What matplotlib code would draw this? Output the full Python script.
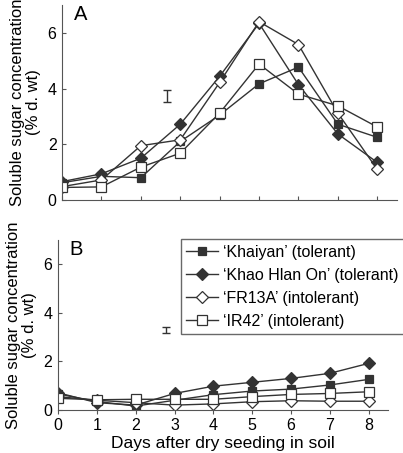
import matplotlib.pyplot as plt
import numpy as np

plt.rcParams['font.family'] = ['Liberation Sans', 'DejaVu Sans']

dias = [0, 1, 2, 3, 4, 5, 6, 7, 8]
nomes = ["\u2018Khaiyan\u2019 (tolerant)", "\u2018Khao Hlan On\u2019 (tolerant)",
         "\u2018FR13A\u2019 (intolerant)", "\u2018IR42\u2019 (intolerant)"]

# painel A
khaiyanA = [0.62, 0.85, 0.80, 2.10, 3.05, 4.17, 4.77, 2.72, 2.25]
khaoA = [0.66, 0.94, 1.50, 2.72, 4.44, 6.34, 4.14, 2.37, 1.35]
fr13aA = [0.48, 0.72, 1.95, 2.16, 4.22, 6.40, 5.58, 3.12, 1.10]
ir42A = [0.45, 0.47, 1.18, 1.68, 3.12, 4.88, 3.80, 3.38, 2.62]
# painel B
khaiyanB = [0.66, 0.35, 0.16, 0.40, 0.63, 0.78, 0.86, 1.03, 1.26]
khaoB = [0.71, 0.30, 0.20, 0.68, 0.98, 1.14, 1.30, 1.51, 1.92]
fr13aB = [0.55, 0.40, 0.30, 0.20, 0.25, 0.34, 0.38, 0.36, 0.36]
ir42B = [0.48, 0.42, 0.44, 0.44, 0.44, 0.55, 0.64, 0.68, 0.75]

# barras de erro (x, y, semi-amplitude)
erroA = (2.66, 3.72, 0.22)
erroB = (2.78, 3.30, 0.12)

cor = '#333333'
estilos = [dict(marker='s', mfc=cor, mec=cor, ms=6),
           dict(marker='D', mfc=cor, mec=cor, ms=6.5),
           dict(marker='D', mfc='white', mec=cor, ms=6.5),
           dict(marker='s', mfc='white', mec=cor, ms=6.5)]

fig = plt.figure(figsize=(4.03, 4.53), dpi=100)
axA = fig.add_axes([0.154, 0.5585, 0.831, 0.4305])
axB = fig.add_axes([0.144, 0.095, 0.819, 0.375])

def painel(ax, series, erro, letra):
    for ys, est, nome in zip(series, estilos, nomes):
        ax.plot(dias, ys, '-', color=cor, lw=1, mew=0.9, label=nome, **est)
    ax.errorbar([erro[0]], [erro[1]], yerr=[erro[2]], fmt='none', ecolor=cor,
                elinewidth=1, capsize=3, capthick=1)
    ax.set_xlim(0, 8.5)
    ax.set_ylim(0, 7)
    ax.set_yticks([0, 2, 4, 6])
    ax.spines['top'].set_visible(False)
    ax.spines['right'].set_visible(False)
    for s in ['left', 'bottom']:
        ax.spines[s].set_color('#555555')
    ax.tick_params(labelsize=11.5, color='#555555', length=3)
    ax.tick_params(axis='y', direction='in', pad=4)
    ax.set_ylabel("Soluble sugar concentration\n(% d. wt)", fontsize=12, labelpad=5,
                  linespacing=1.05)
    ax.text(0.035, 1.0, letra, transform=ax.transAxes, fontsize=14.5, va='top')

painel(axA, [khaiyanA, khaoA, fr13aA, ir42A], erroA, 'A')
axA.set_xticks(dias)
axA.tick_params(axis='x', direction='in', labelbottom=False)

painel(axB, [khaiyanB, khaoB, fr13aB, ir42B], erroB, 'B')
axB.set_xticks(dias)
axB.tick_params(axis='x', pad=3)
axB.set_xlabel("Days after dry seeding in soil", fontsize=12.5, labelpad=2)

leg = axB.legend(loc='upper right', bbox_to_anchor=(1.048, 1.005), fontsize=11.5,
                 frameon=True, fancybox=False, edgecolor='#444444',
                 handlelength=2.0, handletextpad=0.3, borderaxespad=0,
                 labelspacing=0.5, borderpad=0.35)
leg.get_frame().set_linewidth(1)

fig.savefig('out.png', dpi=100)
